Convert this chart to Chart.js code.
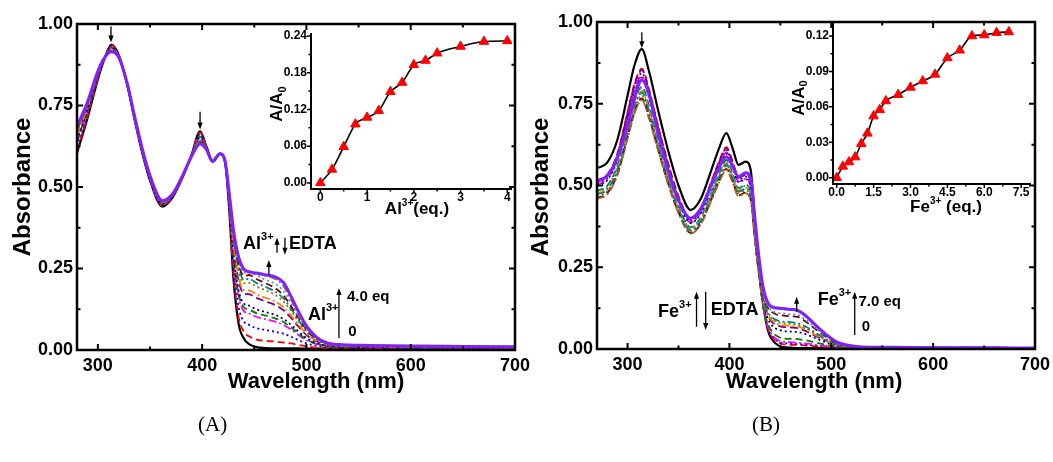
<!DOCTYPE html>
<html>
<head>
<meta charset="utf-8">
<script src="https://cdn.jsdelivr.net/npm/chart.js@4.4.0/dist/chart.umd.min.js"></script>
<style>
  html, body { margin: 0; padding: 0; background: #fff; }
  #wrap { position: relative; width: 1053px; height: 462px; overflow: hidden; }
  canvas { position: absolute; top: 0; }
  .cap { position: absolute; top: 412px; font-family: "Liberation Serif", "Times New Roman", serif; font-size: 21px; }
</style>
</head>
<body>
<div id="wrap">
  <canvas id="mainA" width="545" height="462" style="left:0px"></canvas>
  <canvas id="mainB" width="527" height="462" style="left:526px"></canvas>
  <canvas id="insetA" width="290" height="230" style="left:240px"></canvas>
  <canvas id="insetB" width="290" height="230" style="left:760px"></canvas>
  <div class="cap" style="left:198px">(A)</div>
  <div class="cap" style="left:752px">(B)</div>
</div>
<script>
// ---- data: panel A (Al3+ titration) ----
const wlAl = [280,290,300,306,313,320,328,335,342,350,362,372,382,390,398,404,410,417,422,426,430,435,440,445,452,460,470,478,485,492,500,510,520,535,560,600,650,700];
const al0   = [.604,.710,.830,.890,.937,.905,.815,.710,.612,.520,.440,.470,.535,.600,.671,.625,.580,.602,.575,.430,.220,.080,.035,.018,.009,.006,.005,.005,.005,.005,.004,.004,.004,.004,.004,.003,.003,.003];
const al025 = [.612,.715,.833,.891,.935,.904,.816,.711,.613,.522,.442,.471,.536,.600,.667,.624,.580,.602,.576,.435,.235,.101,.056,.042,.032,.028,.026,.023,.020,.016,.011,.007,.006,.005,.005,.004,.004,.004];
const al05  = [.625,.723,.836,.891,.932,.903,.816,.713,.615,.524,.445,.473,.536,.599,.662,.623,.580,.602,.576,.443,.258,.131,.088,.077,.067,.062,.056,.050,.041,.031,.020,.013,.009,.007,.007,.005,.005,.005];
const al075 = [.637,.730,.840,.892,.928,.902,.817,.714,.617,.526,.447,.474,.537,.598,.656,.621,.579,.602,.577,.450,.280,.162,.120,.112,.102,.095,.087,.077,.063,.047,.030,.018,.011,.009,.008,.007,.006,.006];
const al1   = [.641,.733,.841,.892,.927,.902,.817,.715,.618,.527,.448,.475,.537,.598,.654,.621,.579,.602,.577,.453,.288,.172,.131,.124,.113,.106,.097,.086,.070,.052,.033,.019,.012,.009,.009,.007,.007,.006];
const al125 = [.645,.735,.843,.893,.926,.902,.818,.715,.619,.528,.449,.475,.538,.598,.652,.620,.579,.602,.578,.455,.295,.183,.142,.136,.125,.117,.108,.095,.078,.058,.037,.021,.013,.010,.009,.008,.007,.007];
const al15  = [.657,.743,.846,.893,.923,.900,.818,.717,.620,.530,.452,.477,.538,.597,.646,.619,.579,.602,.578,.463,.318,.213,.173,.171,.160,.150,.138,.122,.099,.073,.046,.026,.016,.012,.011,.009,.008,.008];
const al175 = [.661,.745,.848,.894,.922,.900,.819,.717,.621,.531,.453,.477,.539,.597,.644,.618,.579,.602,.579,.465,.325,.224,.184,.183,.171,.161,.149,.131,.107,.079,.050,.028,.017,.012,.011,.009,.009,.008];
const al2   = [.670,.750,.850,.894,.919,.899,.819,.718,.622,.532,.454,.478,.539,.596,.641,.617,.578,.602,.579,.470,.340,.244,.205,.206,.195,.184,.169,.149,.121,.089,.056,.031,.018,.014,.012,.010,.009,.009];
const al225 = [.674,.753,.851,.894,.918,.899,.819,.719,.623,.533,.455,.479,.539,.596,.639,.617,.578,.602,.579,.473,.348,.254,.216,.218,.206,.195,.179,.158,.128,.094,.059,.033,.019,.014,.013,.011,.010,.009];
const al25  = [.678,.755,.853,.895,.917,.899,.820,.719,.624,.534,.456,.479,.540,.596,.637,.616,.578,.602,.580,.475,.355,.265,.227,.230,.218,.206,.190,.167,.136,.100,.063,.035,.020,.015,.013,.011,.010,.009];
const al3   = [.682,.758,.854,.895,.916,.898,.820,.720,.624,.534,.457,.480,.540,.595,.635,.616,.578,.602,.580,.478,.363,.275,.237,.238,.229,.217,.203,.181,.146,.105,.066,.036,.021,.015,.014,.012,.011,.010];
const al35  = [.684,.758,.854,.894,.914,.897,.820,.720,.625,.535,.457,.480,.540,.595,.634,.615,.578,.601,.580,.479,.367,.281,.245,.240,.234,.228,.218,.196,.156,.112,.070,.037,.022,.016,.014,.012,.011,.010];
const al4   = [.686,.760,.855,.895,.915,.898,.820,.720,.625,.535,.458,.480,.540,.595,.633,.615,.578,.602,.580,.480,.370,.285,.248,.240,.236,.231,.224,.207,.166,.120,.074,.038,.022,.016,.014,.012,.011,.010];
const alCurves = [al0, al025, al05, al075, al1, al125, al15, al175, al2, al225, al25, al3, al35, al4];

const alEq    = [0, 0.25, 0.5, 0.75, 1, 1.25, 1.5, 1.75, 2, 2.25, 2.5, 3, 3.5, 4];
const alRatio = [0, .022, .059, .096, .107, .118, .149, .164, .193, .200, .212, .223, .231, .232];

// ---- data: panel B (Fe3+ titration) ----
const wlFe = [270,280,290,300,307,314,321,330,340,350,362,372,382,390,397,403,409,416,421,425,429,433,438,445,452,460,467,474,480,487,495,505,515,530,560,600,650,700];
const fe0   = [.553,.570,.640,.775,.870,.917,.850,.730,.605,.500,.425,.460,.545,.615,.660,.615,.563,.573,.545,.390,.250,.140,.055,.018,.006,.004,.003,.003,.003,.003,.003,.003,.003,.003,.003,.003,.003,.003];
const fe025 = [.517,.533,.598,.725,.813,.857,.795,.683,.566,.468,.397,.430,.510,.575,.617,.575,.526,.536,.510,.366,.236,.135,.062,.026,.015,.013,.012,.011,.010,.008,.006,.004,.004,.003,.003,.003,.003,.003];
const fe05  = [.509,.524,.589,.713,.800,.844,.782,.672,.557,.460,.391,.423,.501,.566,.607,.566,.518,.527,.501,.360,.233,.134,.064,.030,.019,.017,.015,.014,.012,.010,.007,.005,.004,.003,.003,.003,.003,.003];
const fe075 = [.503,.519,.582,.705,.792,.834,.774,.664,.551,.455,.387,.419,.496,.560,.601,.560,.512,.521,.496,.356,.232,.134,.067,.033,.023,.021,.019,.017,.015,.012,.009,.006,.004,.003,.003,.003,.003,.003];
const fe1   = [.484,.499,.560,.678,.761,.802,.744,.639,.529,.438,.372,.403,.477,.538,.578,.538,.493,.501,.477,.343,.226,.135,.075,.043,.033,.031,.030,.027,.023,.018,.013,.007,.005,.004,.003,.003,.003,.003];
const fe15  = [.500,.516,.579,.701,.787,.830,.769,.661,.548,.453,.385,.416,.493,.557,.597,.557,.510,.519,.493,.357,.239,.148,.091,.064,.056,.053,.052,.046,.039,.030,.020,.011,.007,.004,.004,.003,.003,.003];
const fe2   = [.514,.530,.595,.721,.809,.853,.791,.679,.563,.465,.395,.428,.507,.572,.614,.572,.524,.533,.507,.368,.249,.156,.100,.075,.068,.066,.064,.056,.047,.036,.025,.013,.008,.005,.004,.004,.003,.003];
const fe25  = [.476,.490,.550,.667,.748,.789,.731,.628,.520,.430,.366,.396,.469,.529,.568,.529,.484,.493,.469,.341,.232,.149,.103,.080,.073,.071,.069,.061,.051,.039,.026,.014,.008,.005,.004,.004,.004,.003];
const fe3   = [.467,.482,.541,.655,.735,.775,.718,.617,.511,.423,.359,.389,.461,.520,.558,.520,.476,.484,.461,.336,.230,.149,.108,.085,.079,.077,.074,.066,.055,.042,.028,.015,.009,.005,.004,.004,.004,.003];
const fe35  = [.473,.487,.547,.663,.744,.784,.727,.624,.517,.428,.363,.393,.466,.526,.564,.526,.481,.490,.466,.340,.234,.153,.111,.090,.084,.082,.079,.070,.059,.045,.030,.016,.009,.005,.004,.004,.004,.003];
const fe45  = [.462,.476,.534,.647,.726,.766,.710,.610,.505,.418,.355,.384,.455,.514,.551,.514,.470,.478,.455,.334,.234,.158,.125,.107,.103,.100,.098,.086,.072,.055,.037,.019,.010,.005,.005,.004,.004,.003];
const fe5   = [.481,.496,.557,.674,.757,.798,.740,.635,.526,.435,.370,.400,.474,.535,.574,.535,.490,.499,.474,.348,.244,.166,.129,.112,.109,.106,.104,.091,.076,.058,.039,.020,.011,.006,.005,.004,.004,.003];
const fe6   = [.459,.473,.531,.643,.722,.761,.706,.606,.502,.415,.353,.382,.452,.510,.548,.510,.467,.476,.452,.334,.237,.165,.138,.124,.122,.119,.116,.102,.085,.065,.043,.022,.012,.006,.005,.004,.004,.003];
const fe7   = [.512,.530,.585,.685,.770,.823,.780,.660,.545,.455,.400,.430,.500,.555,.588,.560,.527,.539,.520,.400,.280,.190,.140,.126,.124,.121,.118,.104,.087,.066,.044,.022,.012,.006,.005,.004,.004,.003];
const feCurves = [fe0, fe025, fe05, fe075, fe1, fe15, fe2, fe25, fe3, fe35, fe45, fe5, fe6, fe7];

const feEq    = [0, 0.25, 0.5, 0.75, 1, 1.25, 1.5, 1.75, 2, 2.5, 3, 3.5, 4, 4.5, 5, 5.5, 6, 6.5, 7];
const feRatio = [0, .0096, .0133, .0175, .0288, .0376, .0522, .0576, .065, .0703, .0765, .0819, .0875, .1014, .1079, .120, .1208, .1228, .1234];

// ---- styles ----
const FONT = "'Liberation Sans', Arial, Helvetica, sans-serif";
const lineColors = ['#ff0000','#0000ff','#ff00ff','#008000','#000080','#800080','#ff8000','#808000','#008080','#800000','#3399cc','#996633'];
const lineDashes = [[7,4],[2,3],[8,3,2,3],[7,4],[2,3],[8,4],[8,3,2,3],[2,3],[8,3,2,3],[7,4],[2,3],[8,3,2,3]];

function richText(ctx, parts, x, y, align) {
  let w = 0;
  parts.forEach(p => { ctx.font = 'bold ' + p[1] + 'px ' + FONT; w += ctx.measureText(p[0]).width; });
  let cx = align === 'center' ? x - w / 2 : x;
  ctx.textAlign = 'left';
  ctx.textBaseline = 'middle';
  parts.forEach(p => {
    ctx.font = 'bold ' + p[1] + 'px ' + FONT;
    ctx.fillText(p[0], cx, y + (p[2] || 0));
    cx += ctx.measureText(p[0]).width;
  });
}

const decor = {
  id: 'decor',
  afterDraw(chart, args, o) {
    const ctx = chart.ctx, a = chart.chartArea;
    const xs = chart.scales.x, ys = chart.scales.y;
    ctx.save();
    ctx.strokeStyle = '#000';
    ctx.fillStyle = '#000';
    ctx.lineWidth = o.axisWidth;
    ctx.beginPath();
    if (o.box) {
      ctx.rect(a.left, a.top, a.right - a.left, a.bottom - a.top);
    } else {
      ctx.moveTo(a.left, a.top);
      ctx.lineTo(a.left, a.bottom);
      ctx.lineTo(a.right, a.bottom);
    }
    ctx.stroke();

    const d = o.inward ? 1 : -1;
    ctx.lineWidth = o.tickWidth;
    const tickSet = s => {
      const maj = s.ticks.map(t => t.value);
      const step = maj[1] - maj[0];
      const out = maj.map(v => [v, o.major]);
      for (let v = maj[0] - step / 2; v <= s.max + 1e-9; v += step) {
        if (v >= s.min) out.push([v, o.minor]);
      }
      return out;
    };
    ctx.beginPath();
    tickSet(xs).forEach(([v, len]) => {
      const p = xs.getPixelForValue(v);
      ctx.moveTo(p, a.bottom); ctx.lineTo(p, a.bottom - d * len);
      if (o.box) { ctx.moveTo(p, a.top); ctx.lineTo(p, a.top + d * len); }
    });
    tickSet(ys).forEach(([v, len]) => {
      const p = ys.getPixelForValue(v);
      ctx.moveTo(a.left, p); ctx.lineTo(a.left + d * len, p);
      if (o.box) { ctx.moveTo(a.right, p); ctx.lineTo(a.right - d * len, p); }
    });
    ctx.stroke();

    // arrows (data coordinates)
    ctx.lineWidth = 1.3;
    (o.arrows || []).forEach(ar => {
      const px = xs.getPixelForValue(ar.x);
      const p0 = ys.getPixelForValue(ar.y0), p1 = ys.getPixelForValue(ar.y1);
      const s = p1 < p0 ? -1 : 1;
      ctx.beginPath(); ctx.moveTo(px, p0); ctx.lineTo(px, p1 - s * 4); ctx.stroke();
      ctx.beginPath(); ctx.moveTo(px, p1); ctx.lineTo(px - 2.6, p1 - s * 7); ctx.lineTo(px + 2.6, p1 - s * 7); ctx.closePath(); ctx.fill();
    });
    // labels (data coordinates)
    (o.texts || []).forEach(t => {
      richText(ctx, t.parts, xs.getPixelForValue(t.x), ys.getPixelForValue(t.y), 'left');
    });
    // axis titles (canvas pixels)
    (o.titles || []).forEach(t => {
      if (t.rot) {
        ctx.save();
        ctx.translate(t.px, t.py);
        ctx.rotate(-Math.PI / 2);
        richText(ctx, t.parts, 0, 0, 'center');
        ctx.restore();
      } else {
        richText(ctx, t.parts, t.px, t.py, 'center');
      }
    });
    ctx.restore();
  }
};

function buildSets(wl, curves) {
  const n = curves.length;
  return curves.map((c, i) => {
    const first = i === 0, last = i === n - 1;
    const k = (i - 1) % lineColors.length;
    return {
      data: wl.map((w, j) => ({ x: w, y: c[j] })),
      borderColor: first ? '#000000' : last ? '#8020ff' : lineColors[k],
      borderWidth: first ? 2.2 : last ? 3 : 1.8,
      borderDash: first || last ? [] : lineDashes[k],
      pointRadius: 0,
      cubicInterpolationMode: 'monotone',
      order: last ? 0 : first ? n : n - i
    };
  });
}

function spectra(id, wl, curves, xmin, dims, deco) {
  const tickFont = { family: FONT, size: 18, weight: 'bold' };
  return new Chart(document.getElementById(id), {
    type: 'line',
    data: { datasets: buildSets(wl, curves) },
    options: {
      responsive: false, animation: false, devicePixelRatio: 1,
      layout: { padding: { left: 0, right: dims.right, top: dims.top, bottom: 0 } },
      plugins: { legend: { display: false }, tooltip: { enabled: false }, decor: deco },
      scales: {
        x: {
          type: 'linear', min: xmin, max: 700,
          grid: { display: false, drawTicks: false }, border: { display: false },
          ticks: { stepSize: 100, includeBounds: false, autoSkip: false, maxRotation: 0, padding: 5, color: '#000', font: tickFont },
          afterFit: s => { s.height = dims.xh; s.paddingLeft = 0; s.paddingRight = 0; }
        },
        y: {
          min: 0, max: 1,
          grid: { display: false, drawTicks: false }, border: { display: false },
          ticks: { stepSize: 0.25, padding: 4, color: '#000', font: tickFont, callback: v => v.toFixed(2) },
          afterFit: s => { s.width = dims.yw; s.paddingTop = 0; s.paddingBottom = 0; }
        }
      }
    },
    plugins: [decor]
  });
}

function inset(id, xs, ys, xr, yr, dims, deco) {
  const tickFont = { family: FONT, size: 12, weight: 'bold' };
  return new Chart(document.getElementById(id), {
    type: 'line',
    data: { datasets: [{
      data: xs.map((x, i) => ({ x: x, y: ys[i] })),
      borderColor: '#000', borderWidth: 1.6,
      pointStyle: 'triangle', pointRadius: 5.5,
      pointBackgroundColor: '#ff0000', pointBorderColor: '#ff0000', pointBorderWidth: 1,
      cubicInterpolationMode: 'monotone'
    }] },
    options: {
      responsive: false, animation: false, devicePixelRatio: 1,
      layout: { padding: { left: 0, right: dims.right, top: dims.top, bottom: 0 } },
      plugins: { legend: { display: false }, tooltip: { enabled: false }, decor: deco },
      scales: {
        x: {
          type: 'linear', min: xr[0], max: xr[1],
          grid: { display: false, drawTicks: false }, border: { display: false },
          ticks: { stepSize: xr[2], includeBounds: false, autoSkip: false, maxRotation: 0, padding: 1, color: '#000', font: tickFont,
                   callback: v => v.toFixed(xr[3]) },
          afterFit: s => { s.height = dims.xh; s.paddingLeft = 0; s.paddingRight = 0; }
        },
        y: {
          min: yr[0], max: yr[1],
          grid: { display: false, drawTicks: false }, border: { display: false },
          ticks: { stepSize: yr[2], includeBounds: false, padding: 4, color: '#000', font: tickFont, callback: v => v.toFixed(2) },
          afterFit: s => { s.width = dims.yw; s.paddingTop = 0; s.paddingBottom = 0; }
        }
      }
    },
    plugins: [decor]
  });
}

spectra('mainA', wlAl, alCurves, 280, { right: 30, top: 24, xh: 112, yw: 77 }, {
  box: true, inward: true, axisWidth: 2.5, tickWidth: 2, major: 6, minor: 3.5,
  arrows: [
    { x: 312.6, y0: 0.992, y1: 0.943 },
    { x: 398, y0: 0.731, y1: 0.676 },
    { x: 471.8, y0: 0.298, y1: 0.344 },
    { x: 479.4, y0: 0.344, y1: 0.292 },
    { x: 464, y0: 0.230, y1: 0.276 },
    { x: 531.2, y0: 0.037, y1: 0.19 }
  ],
  texts: [
    { x: 439.2, y: 0.326, parts: [['Al', 18], ['3+', 11, -7]] },
    { x: 483.3, y: 0.326, parts: [['EDTA', 18]] },
    { x: 501.5, y: 0.108, parts: [['Al', 18], ['3+', 11, -7]] },
    { x: 538.9, y: 0.163, parts: [['4.0 eq', 15]] },
    { x: 540, y: 0.055, parts: [['0', 15]] }
  ],
  titles: [
    { px: 23, py: 187, rot: true, parts: [['Absorbance', 24]] },
    { px: 316, py: 382, parts: [['Wavelength (nm)', 22]] }
  ]
});

spectra('mainB', wlFe, feCurves, 270, { right: 18, top: 22, xh: 113, yw: 71 }, {
  box: true, inward: true, axisWidth: 2.5, tickWidth: 2, major: 6, minor: 3.5,
  arrows: [
    { x: 314, y0: 0.969, y1: 0.920 },
    { x: 367.7, y0: 0.068, y1: 0.175 },
    { x: 376.7, y0: 0.175, y1: 0.058 },
    { x: 466, y0: 0.114, y1: 0.16 },
    { x: 523, y0: 0.043, y1: 0.175 }
  ],
  texts: [
    { x: 330, y: 0.113, parts: [['Fe', 18], ['3+', 11, -7]] },
    { x: 381.7, y: 0.119, parts: [['EDTA', 18]] },
    { x: 486.7, y: 0.15, parts: [['Fe', 18], ['3+', 11, -7]] },
    { x: 526.7, y: 0.145, parts: [['7.0 eq', 15]] },
    { x: 530, y: 0.068, parts: [['0', 15]] }
  ],
  titles: [
    { px: 15, py: 187, rot: true, parts: [['Absorbance', 24]] },
    { px: 288, py: 382, parts: [['Wavelength (nm)', 22]] }
  ]
});

inset('insetA', alEq, alRatio, [-0.2, 4.1, 1, 0], [-0.01, 0.245, 0.06], { right: 18, top: 33, xh: 41, yw: 71 }, {
  box: false, inward: false, axisWidth: 2, tickWidth: 1.5, major: 4, minor: 2.5,
  titles: [
    { px: 37.5, py: 104, rot: true, parts: [['A/A', 17], ['0', 11, 5]] },
    { px: 177, py: 209, parts: [['Al', 17], ['3+', 10, -6], ['(eq.)', 17]] }
  ]
});

inset('insetB', feEq, feRatio, [-0.15, 7.9, 1.5, 1], [-0.0053, 0.131, 0.03], { right: 19, top: 23, xh: 46, yw: 73 }, {
  box: false, inward: false, axisWidth: 2, tickWidth: 1.5, major: 4, minor: 2.5,
  titles: [
    { px: 39, py: 98, rot: true, parts: [['A/A', 17], ['0', 11, 5]] },
    { px: 186, py: 207, parts: [['Fe', 17], ['3+', 10, -6], [' (eq.)', 17]] }
  ]
});
</script>
</body>
</html>
